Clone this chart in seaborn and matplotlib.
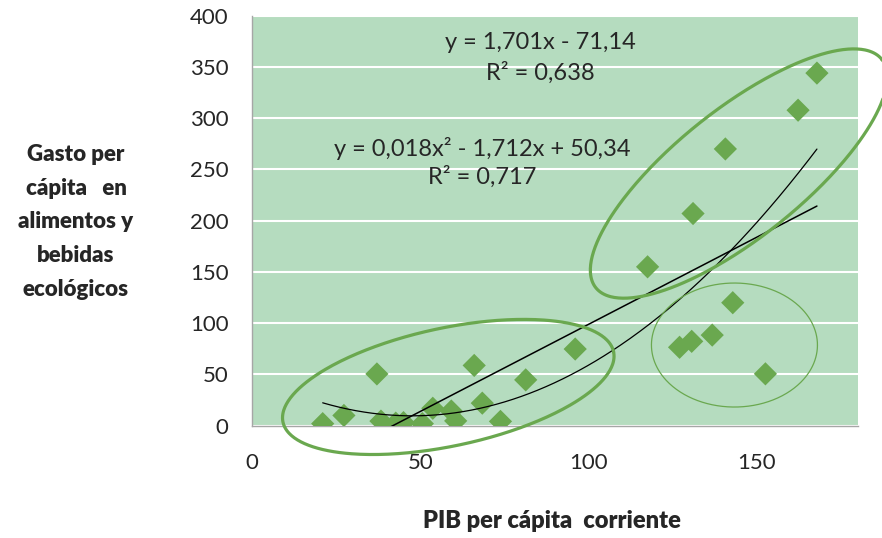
import numpy as np
import pandas as pd
import matplotlib
matplotlib.use("Agg")
import matplotlib.pyplot as plt
import seaborn as sns

# datos
pib = [21.0, 27.3, 37.1, 38.3, 42.7, 45.0, 50.6, 53.7, 59.2, 60.5, 66.0, 68.4, 73.8,
       81.3, 96.0, 117.5, 127.0, 130.6, 131.0, 136.7, 140.6, 142.8, 152.5, 162.2, 167.8]
gasto = [2.0, 10.0, 50.5, 4.5, 2.5, 3.0, 2.0, 17.0, 14.3, 4.7, 58.8, 22.0, 4.2,
         44.7, 74.8, 155.0, 76.5, 82.3, 207.0, 88.4, 270.0, 120.0, 50.6, 307.8, 344.0]

# coeficientes de las lineas de tendencia (como en la etiqueta)
lin_coef = [1.701, -71.14]
quad_coef = [0.018, -1.712, 50.34]

lin_label = "y = 1,701x - 71,14\nR² = 0,638"
quad_label = "y = 0,018x² - 1,712x + 50,34\nR² = 0,717"

x_ticks = [0, 50, 100, 150]
y_ticks = [0, 50, 100, 150, 200, 250, 300, 350, 400]

df = pd.DataFrame({'pib': pib, 'gasto': gasto})

sns.set_style("white")
plt.rcParams['font.family'] = ['Lato', 'DejaVu Sans']

verde = '#6aa84f'
fondo = '#b5dcbf'
texto = '#262626'

fig = plt.figure(figsize=(8.82, 5.38), dpi=100)
ax = fig.add_axes([252 / 882, 112.3 / 538, 606 / 882, 410 / 538])
ax.set_facecolor(fondo)

ax.set_xlim(0, 180)
ax.set_ylim(0, 400)
ax.set_xticks(x_ticks)
ax.set_yticks(y_ticks)
ax.tick_params(axis='both', labelsize=16, colors='#a6a6a6', labelcolor=texto,
               length=6, width=1, direction='out')
ax.tick_params(axis='x', pad=14)
ax.tick_params(axis='y', pad=11)
ax.yaxis.grid(True, color='white', linewidth=1.5)
ax.xaxis.grid(False)
ax.set_axisbelow(True)
for s in ['top', 'right']:
    ax.spines[s].set_visible(False)
for s in ['left', 'bottom']:
    ax.spines[s].set_color('#a6a6a6')
    ax.spines[s].set_linewidth(1)

sns.scatterplot(data=df, x='pib', y='gasto', marker='D', s=140, color=verde,
                edgecolor='none', ax=ax, zorder=3)

# lineas de tendencia
xs = np.linspace(df['pib'].min(), df['pib'].max(), 300)
ax.plot(xs, np.polyval(lin_coef, xs), color='black', lw=1.1, zorder=4)
ax.plot(xs, np.polyval(quad_coef, xs), color='black', lw=0.9, zorder=4)

# elipses (centro en datos, semiejes en pixeles)
sx = 606 / 180
sy = 410 / 400
t = np.linspace(0, 2 * np.pi, 400)
elipses = [(58.3, 37.8, 169, 59, 12, 2.3),
           (144.6, 246.0, 183, 64, 38.6, 2.3),
           (143.3, 78.7, 83, 62, 0, 0.9)]
for cx, cy, a, b, ang, lw in elipses:
    th = np.deg2rad(ang)
    ex = cx + (a * np.cos(t) * np.cos(th) - b * np.sin(t) * np.sin(th)) / sx
    ey = cy + (a * np.cos(t) * np.sin(th) + b * np.sin(t) * np.cos(th)) / sy
    ax.plot(ex, ey, color=verde, lw=lw, clip_on=False, zorder=5)

ax.text(85.6, 359, lin_label, ha='center', va='center', fontsize=17,
        color=texto, linespacing=1.5, multialignment='center')
ax.text(68.4, 257, quad_label, ha='center', va='center', fontsize=17,
        color=texto, linespacing=1.35, multialignment='center')

ax.set_xlabel('')
ax.set_ylabel('')
fig.text(552 / 882, 1 - 521 / 538, 'PIB per cápita  corriente', ha='center', va='center',
         fontsize=17, fontweight='heavy', color=texto)
fig.text(76 / 882, 1 - 222 / 538, 'Gasto per\ncápita   en\nalimentos y\nbebidas\necológicos',
         ha='center', va='center', fontsize=16, fontweight='heavy', color=texto,
         linespacing=1.75, multialignment='center')

plt.savefig('out.png', dpi=100)
